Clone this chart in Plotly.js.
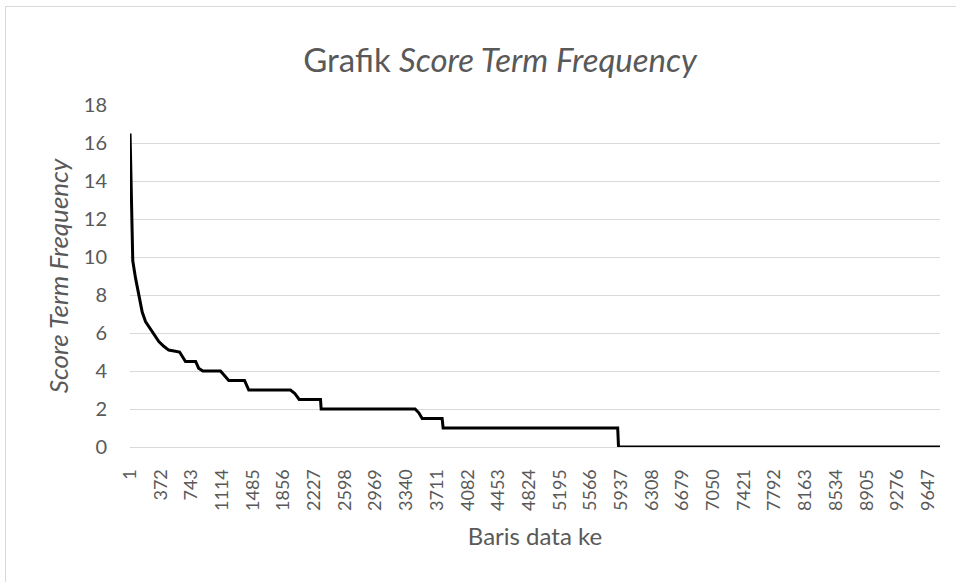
<!DOCTYPE html>
<html>
<head>
<meta charset="utf-8">
<script src="https://cdn.plot.ly/plotly-3.0.1.min.js"></script>
<style>
  html, body { margin: 0; padding: 0; background: #ffffff; }
  #wrap { position: relative; width: 956px; height: 582px; overflow: hidden; }
  #frame { position: absolute; left: 5px; top: 6px; width: 1100px; height: 700px; border: 1px solid #d9d9d9; box-sizing: border-box; }
  #chart { position: absolute; left: 0; top: 0; width: 956px; height: 582px; }
</style>
</head>
<body>
<div id="wrap">
  <div id="frame"></div>
  <div id="chart"></div>
</div>
<script>
// Breakpoints of the sorted score curve (row number -> score)
const rowIndex = [1, 20, 27, 34, 67, 107, 148, 188, 248, 309, 349, 409, 469, 600, 650, 671, 794, 830, 880, 1094, 1134, 1194, 1385, 1436, 1940, 1990, 2045, 2303, 2311, 3446, 3491, 3532, 3773, 3785, 5895, 5905, 9790];
const scoreTF  = [16.5, 12.6, 10.8, 9.8, 8.9, 8.0, 7.1, 6.6, 6.2, 5.8, 5.55, 5.3, 5.1, 5.0, 4.6, 4.5, 4.5, 4.15, 4.0, 4.0, 3.8, 3.5, 3.5, 3.0, 3.0, 2.83, 2.5, 2.5, 2.0, 2.0, 1.8, 1.5, 1.5, 1.0, 1.0, 0, 0];
const totalRows = 9790;
const xTickLabels = ["1","372","743","1114","1485","1856","2227","2598","2969","3340","3711","4082","4453","4824","5195","5566","5937","6308","6679","7050","7421","7792","8163","8534","8905","9276","9647"];
const yTickValues = [0, 2, 4, 6, 8, 10, 12, 14, 16, 18];

const textColor = '#595959';
const gridColor = '#d9d9d9';
const fontFam = 'Lato, "Open Sans", sans-serif';

const trace = {
  x: rowIndex,
  y: scoreTF,
  type: 'scatter',
  mode: 'lines',
  line: { color: '#000000', width: 3 },
  hoverinfo: 'skip'
};

const layout = {
  width: 956,
  height: 582,
  paper_bgcolor: 'rgba(0,0,0,0)',
  plot_bgcolor: 'rgba(0,0,0,0)',
  margin: { l: 130, r: 16, t: 105, b: 135 },
  showlegend: false,
  title: {
    text: 'Grafik <i>Score Term Frequency</i>',
    font: { family: fontFam, size: 33, color: textColor },
    xref: 'container', yref: 'container',
    x: 500 / 956, xanchor: 'center',
    y: 1 - 60 / 582, yanchor: 'middle'
  },
  xaxis: {
    type: 'linear',
    range: [0.5, totalRows + 0.5],
    tickmode: 'array',
    tickvals: xTickLabels.map(Number),
    ticktext: xTickLabels,
    tickangle: -90,
    ticks: '',
    ticklabelstandoff: 14,
    tickfont: { family: fontFam, size: 18, color: textColor },
    showgrid: false,
    zeroline: false,
    showline: true,
    linecolor: gridColor,
    linewidth: 1,
    title: {
      text: 'Baris data ke',
      font: { family: fontFam, size: 24, color: textColor },
      standoff: 18
    },
    fixedrange: true
  },
  yaxis: {
    range: [0, 18],
    tickmode: 'array',
    tickvals: yTickValues,
    ticks: '',
    ticklabelstandoff: 22,
    tickfont: { family: fontFam, size: 20, color: textColor },
    showgrid: true,
    gridcolor: gridColor,
    gridwidth: 1,
    zeroline: false,
    showline: false,
    title: {
      text: '<i>Score Term Frequency</i>',
      font: { family: fontFam, size: 26, color: textColor },
      standoff: 7
    },
    fixedrange: true
  }
};

Plotly.newPlot('chart', [trace], layout, { displayModeBar: false, staticPlot: true });
</script>
</body>
</html>
